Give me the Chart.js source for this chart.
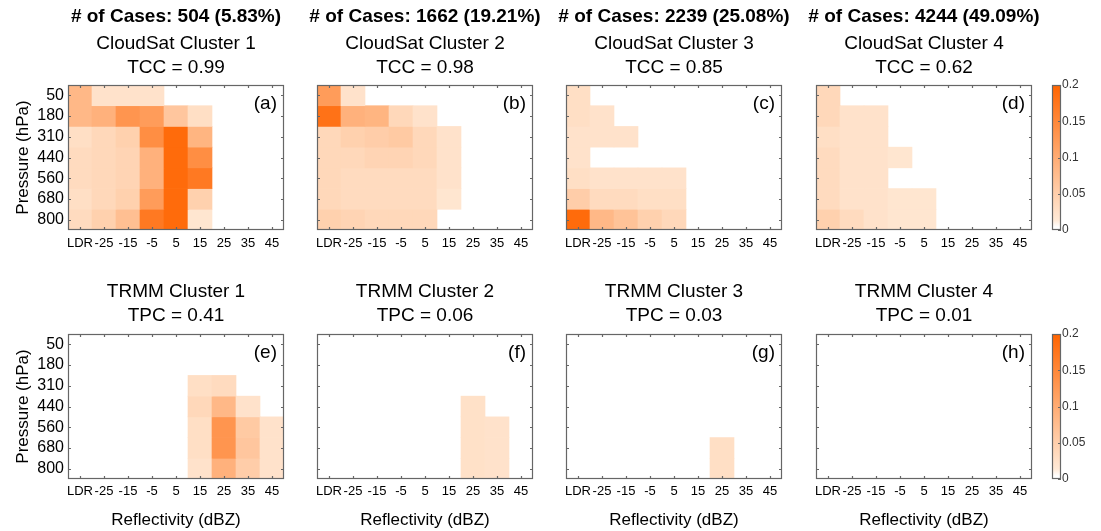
<!DOCTYPE html>
<html>
<head>
<meta charset="utf-8">
<script src="https://cdn.jsdelivr.net/npm/chart.js@4.4.1/dist/chart.umd.min.js"></script>
<style>
  body { margin: 0; background: #fff; }
  #wrap { position: relative; width: 1101px; height: 531px; overflow: hidden; }
  #wrap canvas { position: absolute; }
</style>
</head>
<body>
<div id="wrap"></div>
<script>
const xLabels = ['LDR', '-25', '-15', '-5', '5', '15', '25', '35', '45'];
const pressures = ['50', '180', '310', '440', '560', '680', '800'];
const cbTicks = [0, 0.05, 0.1, 0.15, 0.2];

const caseCounts = ['# of Cases: 504 (5.83%)', '# of Cases: 1662 (19.21%)', '# of Cases: 2239 (25.08%)', '# of Cases: 4244 (49.09%)'];
const csTitles = ['CloudSat Cluster 1', 'CloudSat Cluster 2', 'CloudSat Cluster 3', 'CloudSat Cluster 4'];
const tcc = ['TCC = 0.99', 'TCC = 0.98', 'TCC = 0.85', 'TCC = 0.62'];
const trTitles = ['TRMM Cluster 1', 'TRMM Cluster 2', 'TRMM Cluster 3', 'TRMM Cluster 4'];
const tpc = ['TPC = 0.41', 'TPC = 0.06', 'TPC = 0.03', 'TPC = 0.01'];
const letters = ['(a)', '(b)', '(c)', '(d)', '(e)', '(f)', '(g)', '(h)'];

// relative frequency, one row per pressure level, columns follow xLabels
const cs1 = [
  [0.08, 0.02, 0.02, 0.02, 0, 0, 0, 0, 0],
  [0.08, 0.09, 0.13, 0.12, 0.06, 0.025, 0, 0, 0],
  [0.025, 0.035, 0.045, 0.14, 0.19, 0.085, 0, 0, 0],
  [0.03, 0.035, 0.04, 0.09, 0.19, 0.14, 0, 0, 0],
  [0.03, 0.035, 0.04, 0.09, 0.19, 0.17, 0, 0, 0],
  [0.025, 0.035, 0.045, 0.12, 0.19, 0.045, 0, 0, 0],
  [0.03, 0.045, 0.07, 0.17, 0.19, 0.015, 0, 0, 0]
];
const cs2 = [
  [0.12, 0.02, 0, 0, 0, 0, 0, 0, 0],
  [0.18, 0.09, 0.085, 0.035, 0.02, 0, 0, 0, 0],
  [0.035, 0.045, 0.05, 0.055, 0.035, 0.02, 0, 0, 0],
  [0.035, 0.035, 0.04, 0.04, 0.035, 0.02, 0, 0, 0],
  [0.035, 0.03, 0.03, 0.03, 0.03, 0.02, 0, 0, 0],
  [0.035, 0.03, 0.03, 0.03, 0.03, 0.015, 0, 0, 0],
  [0.045, 0.04, 0.035, 0.035, 0.035, 0, 0, 0, 0]
];
const cs3 = [
  [0.025, 0, 0, 0, 0, 0, 0, 0, 0],
  [0.025, 0.02, 0, 0, 0, 0, 0, 0, 0],
  [0.02, 0.02, 0.02, 0, 0, 0, 0, 0, 0],
  [0.02, 0, 0, 0, 0, 0, 0, 0, 0],
  [0.025, 0.02, 0.02, 0.02, 0.02, 0, 0, 0, 0],
  [0.05, 0.03, 0.03, 0.025, 0.025, 0, 0, 0, 0],
  [0.19, 0.08, 0.065, 0.045, 0.035, 0, 0, 0, 0]
];
const cs4 = [
  [0.035, 0, 0, 0, 0, 0, 0, 0, 0],
  [0.035, 0.02, 0.02, 0, 0, 0, 0, 0, 0],
  [0.025, 0.02, 0.02, 0, 0, 0, 0, 0, 0],
  [0.03, 0.02, 0.02, 0.015, 0, 0, 0, 0, 0],
  [0.03, 0.02, 0.02, 0, 0, 0, 0, 0, 0],
  [0.03, 0.02, 0.02, 0.015, 0.015, 0, 0, 0, 0],
  [0.045, 0.03, 0.02, 0.015, 0.015, 0, 0, 0, 0]
];
const tr1 = [
  [0, 0, 0, 0, 0, 0, 0, 0, 0],
  [0, 0, 0, 0, 0, 0, 0, 0, 0],
  [0, 0, 0, 0, 0, 0.025, 0.03, 0, 0],
  [0, 0, 0, 0, 0, 0.035, 0.08, 0.02, 0],
  [0, 0, 0, 0, 0, 0.025, 0.13, 0.055, 0.02],
  [0, 0, 0, 0, 0, 0.025, 0.13, 0.06, 0.02],
  [0, 0, 0, 0, 0, 0.02, 0.09, 0.05, 0.02]
];
const tr2 = [
  [0, 0, 0, 0, 0, 0, 0, 0, 0],
  [0, 0, 0, 0, 0, 0, 0, 0, 0],
  [0, 0, 0, 0, 0, 0, 0, 0, 0],
  [0, 0, 0, 0, 0, 0, 0.022, 0, 0],
  [0, 0, 0, 0, 0, 0, 0.022, 0.02, 0],
  [0, 0, 0, 0, 0, 0, 0.022, 0.02, 0],
  [0, 0, 0, 0, 0, 0, 0.022, 0.02, 0]
];
const tr3 = [
  [0, 0, 0, 0, 0, 0, 0, 0, 0],
  [0, 0, 0, 0, 0, 0, 0, 0, 0],
  [0, 0, 0, 0, 0, 0, 0, 0, 0],
  [0, 0, 0, 0, 0, 0, 0, 0, 0],
  [0, 0, 0, 0, 0, 0, 0, 0, 0],
  [0, 0, 0, 0, 0, 0, 0.025, 0, 0],
  [0, 0, 0, 0, 0, 0, 0.025, 0, 0]
];
const tr4 = [
  [0, 0, 0, 0, 0, 0, 0, 0, 0],
  [0, 0, 0, 0, 0, 0, 0, 0, 0],
  [0, 0, 0, 0, 0, 0, 0, 0, 0],
  [0, 0, 0, 0, 0, 0, 0, 0, 0],
  [0, 0, 0, 0, 0, 0, 0, 0, 0],
  [0, 0, 0, 0, 0, 0, 0, 0, 0],
  [0, 0, 0, 0, 0, 0, 0, 0, 0]
];

const FONT = "'Liberation Sans', Arial, sans-serif";
Chart.defaults.font.family = FONT;
Chart.defaults.color = '#000';

const plotLefts = [68, 317, 566, 816];
const PW = 216, M = 68;

function colorFor(v) {
  if (!(v > 0)) return 'rgba(0,0,0,0)';
  const t = Math.min(v / 0.2, 1);
  const g = Math.round(240 + (100 - 240) * t);
  const b = Math.round(225 + (0 - 225) * t);
  return `rgb(255,${g},${b})`;
}

// box, inward ticks and panel letter
const framePlugin = {
  id: 'frame',
  afterDatasetsDraw(chart, args, o) {
    const { ctx, chartArea: a } = chart;
    ctx.save();
    ctx.strokeStyle = '#666';
    ctx.lineWidth = 1.2;
    ctx.beginPath();
    if (o.xTicks) {
      const sx = chart.scales.x;
      sx.ticks.forEach((t, i) => {
        const px = Math.round(sx.getPixelForTick(i)) + 0.5;
        ctx.moveTo(px, a.bottom); ctx.lineTo(px, a.bottom - 3);
        ctx.moveTo(px, a.top); ctx.lineTo(px, a.top + 3);
      });
    }
    const sy = chart.scales.y;
    sy.ticks.forEach((t, i) => {
      const py = Math.round(sy.getPixelForTick(i)) + 0.5;
      if (o.leftTicks) { ctx.moveTo(a.left, py); ctx.lineTo(a.left + 3, py); }
      ctx.moveTo(a.right, py); ctx.lineTo(a.right - 3, py);
    });
    ctx.stroke();
    ctx.strokeRect(a.left + 0.5, a.top + 0.5, a.right - a.left - 1, a.bottom - a.top - 1);
    if (o.letter) {
      ctx.fillStyle = '#000';
      ctx.font = '19px ' + FONT;
      ctx.textAlign = 'right';
      ctx.textBaseline = 'middle';
      ctx.fillText(o.letter, a.right - 7, a.top + 19);
    }
    ctx.restore();
  }
};

function addCanvas(left, top, w, h) {
  const cv = document.createElement('canvas');
  cv.width = w; cv.height = h;
  cv.style.left = left + 'px'; cv.style.top = top + 'px';
  document.getElementById('wrap').appendChild(cv);
  return cv;
}

function makePanel(vals, col, row) {
  const top = row === 0 ? 0 : 270;
  const h = row === 0 ? 260 : 261;
  const cv = addCanvas(plotLefts[col] - M, top, PW + 2 * M, h);
  const datasets = pressures.map((p, i) => ({
    data: xLabels.map((_, j) => vals[i][j] > 0 ? [i - 0.5, i + 0.5] : null),
    backgroundColor: xLabels.map((_, j) => colorFor(vals[i][j])),
    xAxisID: 'x', yAxisID: 'y',
    grouped: false, barPercentage: 1, categoryPercentage: 1, borderWidth: 0
  }));
  const titleOpts = row === 0
    ? { display: true, text: caseCounts[col], font: { size: 19, weight: 'bold' }, padding: { top: 5, bottom: 3.8 } }
    : { display: true, text: [trTitles[col], tpc[col]], font: { size: 19, weight: 'normal', lineHeight: 24 / 19 }, padding: { top: 10, bottom: 6 } };
  const subOpts = row === 0
    ? { display: true, text: [csTitles[col], tcc[col]], color: '#000', font: { size: 19, lineHeight: 24 / 19 }, padding: { top: 0, bottom: 5.4 } }
    : { display: false };
  new Chart(cv, {
    type: 'bar',
    data: { labels: xLabels, datasets },
    options: {
      responsive: false, animation: false, devicePixelRatio: 1,
      layout: { padding: 0 },
      plugins: {
        legend: { display: false }, tooltip: { enabled: false },
        title: titleOpts, subtitle: subOpts,
        frame: { xTicks: true, leftTicks: true, letter: letters[row * 4 + col] }
      },
      scales: {
        x: {
          grid: { display: false, drawTicks: false }, border: { display: false },
          ticks: { font: { size: 13 }, padding: row === 0 ? 5.5 : 4.2, maxRotation: 0, autoSkip: false },
          title: { display: row === 1, text: 'Reflectivity (dBZ)', font: { size: 17 }, padding: { top: 0, bottom: 0.8 } },
          afterFit: s => { s.height = row === 0 ? 30 : 52; }
        },
        y: {
          type: 'linear', min: -0.5, max: 6.5, reverse: true,
          afterBuildTicks: s => { s.ticks = pressures.map((p, i) => ({ value: i })); },
          grid: { display: false, drawTicks: false }, border: { display: false },
          ticks: { display: col === 0, font: { size: 16 }, padding: 4, callback: (v, i) => pressures[i] },
          title: { display: col === 0, text: 'Pressure (hPa)', font: { size: 17 }, padding: { top: 13, bottom: 0 } },
          afterFit: s => { s.width = M; }
        },
        yr: {
          type: 'linear', position: 'right',
          grid: { display: false, drawTicks: false }, border: { display: false },
          ticks: { display: false },
          afterFit: s => { s.width = M; }
        }
      }
    },
    plugins: [framePlugin]
  });
}

function makeColorbar(row) {
  const top = row === 0 ? 0 : 270;
  const h = row === 0 ? 260 : 261;
  const cv = addCanvas(1040, top, 61, h);
  new Chart(cv, {
    type: 'bar',
    data: {
      labels: [''],
      datasets: [{
        data: [[cbTicks[0], cbTicks[cbTicks.length - 1]]],
        xAxisID: 'x', yAxisID: 'y',
        barPercentage: 1, categoryPercentage: 1, borderWidth: 0,
        backgroundColor: c => {
          const a = c.chart.chartArea;
          if (!a) return 'rgba(0,0,0,0)';
          const g = c.chart.ctx.createLinearGradient(0, a.bottom, 0, a.top);
          g.addColorStop(0, '#fff');
          g.addColorStop(0.02, '#fff');
          for (let i = 1; i <= 20; i++) g.addColorStop(0.02 + 0.98 * i / 20, colorFor(0.2 * i / 20));
          return g;
        }
      }]
    },
    options: {
      responsive: false, animation: false, devicePixelRatio: 1,
      layout: { padding: { left: 12, top: row === 0 ? 85 : 64, bottom: row === 0 ? 30 : 52 } },
      plugins: { legend: { display: false }, tooltip: { enabled: false }, frame: { xTicks: false, leftTicks: false } },
      scales: {
        x: { display: false },
        y: {
          position: 'right', min: 0, max: 0.2,
          afterBuildTicks: s => { s.ticks = cbTicks.map(v => ({ value: v })); },
          grid: { display: false, drawTicks: false }, border: { display: false },
          ticks: { font: { size: 12 }, color: '#333', padding: 1, callback: v => String(v) },
          afterFit: s => { s.width = 40; }
        }
      }
    },
    plugins: [framePlugin]
  });
}

[cs1, cs2, cs3, cs4].forEach((v, c) => makePanel(v, c, 0));
[tr1, tr2, tr3, tr4].forEach((v, c) => makePanel(v, c, 1));
makeColorbar(0);
makeColorbar(1);
</script>
</body>
</html>
